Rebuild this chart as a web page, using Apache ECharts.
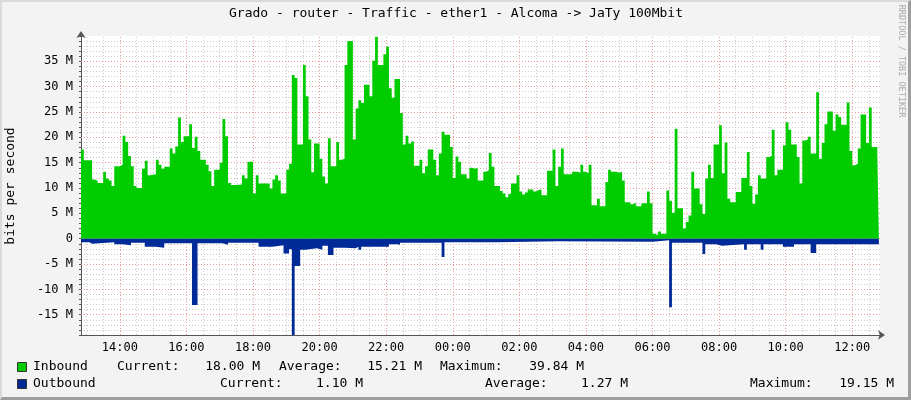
<!DOCTYPE html>
<html><head><meta charset="utf-8">
<script src="https://cdn.jsdelivr.net/npm/echarts@6/dist/echarts.min.js"></script>
<style>
html,body{margin:0;padding:0;background:#F3F3F3;}
#chart{position:absolute;left:0;top:0;width:911px;height:400px;}
#frame{position:absolute;left:0;top:0;width:911px;height:400px;box-sizing:border-box;border-top:2px solid #dadada;border-left:2px solid #dadada;border-right:3px solid #9e9e9e;border-bottom:3px solid #9e9e9e;pointer-events:none;}
</style></head>
<body>
<div id="chart"></div><div id="frame"></div>
<script>
// ---- data (values in Mbit/s), step samples: value holds from its time until the next time ----
const inTimes = ["12:50","12:55","13:10","13:15","13:20","13:30","13:35","13:40","13:45","13:50","14:00","14:05","14:10","14:15","14:20","14:25","14:30","14:40","14:45","14:50","14:55","15:05","15:10","15:15","15:20","15:30","15:35","15:40","15:45","15:50","15:55","16:05","16:10","16:15","16:20","16:25","16:35","16:40","16:45","16:50","17:00","17:05","17:10","17:15","17:20","17:30","17:40","17:45","17:50","18:00","18:05","18:10","18:30","18:35","18:40","18:45","18:50","19:00","19:05","19:10","19:15","19:20","19:30","19:35","19:40","19:45","19:50","20:00","20:05","20:10","20:15","20:20","20:30","20:35","20:40","20:45","20:50","21:00","21:05","21:10","21:15","21:20","21:30","21:35","21:40","21:45","21:55","22:00","22:05","22:10","22:15","22:25","22:30","22:35","22:40","22:45","22:50","23:00","23:05","23:10","23:15","23:25","23:30","23:35","23:40","23:45","23:55","00:00","00:05","00:10","00:15","00:25","00:30","00:35","00:40","00:45","00:55","01:00","01:05","01:10","01:15","01:25","01:30","01:35","01:40","01:45","01:55","02:00","02:05","02:10","02:15","02:25","02:30","02:35","02:40","02:50","03:00","03:05","03:10","03:15","03:20","03:35","03:45","03:50","03:55","04:00","04:05","04:10","04:20","04:25","04:35","04:40","04:45","04:55","05:00","05:05","05:10","05:20","05:25","05:30","05:40","05:50","05:55","06:00","06:05","06:10","06:15","06:25","06:30","06:35","06:40","06:45","06:55","07:00","07:05","07:10","07:15","07:25","07:30","07:35","07:40","07:45","07:50","08:00","08:05","08:10","08:15","08:20","08:30","08:40","08:50","08:55","09:00","09:05","09:10","09:15","09:25","09:30","09:35","09:40","09:45","09:55","10:00","10:05","10:10","10:20","10:25","10:30","10:35","10:40","10:45","10:55","11:00","11:05","11:10","11:15","11:25","11:30","11:35","11:40","11:50","11:55","12:00","12:05","12:10","12:15","12:25","12:30","12:35","12:45","12:48"];
const inValues = [17.6,15.5,11.7,11.4,11.0,13.2,11.9,11.5,10.4,14.3,14.6,20.3,19.1,16.3,14.3,10.4,10.0,13.8,15.4,12.5,12.7,15.6,14.6,13.8,14.2,17.8,16.8,18.2,23.9,19.1,20.2,22.6,17.9,20.1,17.3,15.6,14.6,13.3,10.4,13.6,15.0,23.6,20.2,11.0,10.6,10.7,12.5,11.9,15.2,8.9,12.5,10.9,9.9,11.7,12.5,11.5,8.9,13.6,14.8,32.3,31.7,18.6,34.3,28.1,19.6,13.1,18.8,15.8,12.3,10.9,19.8,14.3,19.1,15.6,15.8,34.3,39.0,19.6,25.7,27.3,26.8,30.4,28.1,35.1,39.84,34.3,36.4,37.9,29.7,27.8,31.5,24.8,18.6,20.3,18.8,19.2,14.4,15.6,12.9,14.3,17.6,15.6,12.5,16.8,21.1,20.5,18.1,12.0,16.2,15.2,12.7,11.9,14.0,13.8,14.0,11.5,13.2,13.5,16.9,14.2,10.4,9.4,8.9,8.2,8.8,10.9,12.5,9.3,8.7,9.1,9.7,9.3,9.6,9.7,8.6,13.4,17.6,10.4,14.2,17.8,12.7,13.2,13.0,14.6,13.2,12.9,14.6,6.6,7.9,6.4,11.2,13.6,13.2,13.0,13.2,11.5,7.2,6.8,7.1,6.4,7.0,9.3,7.0,1.0,0.7,1.4,1.0,9.5,7.5,5.1,21.7,6.0,2.0,3.3,4.6,13.2,9.9,6.8,4.9,11.9,14.6,12.0,18.6,22.4,12.9,19.0,7.9,7.2,9.2,12.0,17.1,10.4,6.9,8.7,12.5,11.9,16.1,16.3,21.5,12.5,13.6,18.4,23.0,21.5,18.6,16.1,10.9,19.4,19.6,20.1,16.8,28.9,15.8,18.9,22.6,25.1,21.3,24.5,24.0,22.5,26.9,17.3,14.5,14.8,17.8,24.5,18.9,25.9,18.1,18.0,18.0];
const outTimes = ["12:50","13:05","13:10","13:50","14:05","14:20","14:45","15:05","15:20","16:10","16:20","17:05","17:15","18:10","18:35","18:55","19:05","19:10","19:15","19:25","19:35","19:55","20:05","20:15","20:25","20:45","21:05","21:10","21:15","22:05","22:20","22:25","23:40","23:45","01:20","03:10","06:00","06:30","06:35","07:30","07:35","07:55","08:05","08:45","08:50","09:15","09:20","09:55","10:15","10:45","10:55","12:48"];
const outValues = [0.7,1.0,0.7,1.1,1.3,0.8,1.6,1.8,0.9,13.1,0.9,1.2,0.8,1.6,1.3,2.9,2.1,19.15,5.4,2.2,1.9,2.2,1.4,3.2,1.8,1.9,1.6,2.2,1.6,1.1,1.2,0.8,3.6,0.7,0.5,0.6,0.3,13.5,0.8,3.0,1.1,1.4,1.1,2.2,1.1,2.2,1.1,1.6,1.1,2.8,1.1,1.1];
const xTickLabels = ["14:00","16:00","18:00","20:00","22:00","00:00","02:00","04:00","06:00","08:00","10:00","12:00"];
const yTickValues = [-15,-10,-5,0,5,10,15,20,25,30,35];
const titleText = "Grado - router - Traffic - ether1 - Alcoma -> JaTy 100Mbit";
const seriesNames = ["Inbound","Outbound"];
const inboundStats = ["18.00 M","15.21 M","39.84 M"];
const outboundStats = ["1.10 M","1.27 M","19.15 M"];

// ---- helpers ----
const START = 770; // 12:50 in minutes
function toMin(t){const p=t.split(':');let v=(+p[0])*60+(+p[1]);if(v<START)v+=1440;return v;}
const inData = inTimes.map((t,i)=>[toMin(t), inValues[i]*1e6]);
const outData = outTimes.map((t,i)=>[toMin(t), -outValues[i]*1e6]);
const xLabelMins = xTickLabels.map(toMin);

const MONO = "'DejaVu Sans Mono', monospace";
const gridLines = [];
for (let m = 780; m < 2210; m += 30) {
  const major = xLabelMins.indexOf(m) >= 0;
  gridLines.push({xAxis: m, lineStyle: {color: major ? '#F09A9A' : '#CCCCCC', type: [1,2], width: 1}});
}
yTickValues.forEach(v => gridLines.push({yAxis: v*1e6, lineStyle: {color: '#F09A9A', type: [1,2], width: 1}}));

const chart = echarts.init(document.getElementById('chart'), null, {renderer: 'canvas'});
const gfx = [
  {type:'text', x:456, y:14, style:{text:titleText, font:'13px '+MONO, fill:'#000', align:'center', verticalAlign:'middle'}},
  {type:'text', x:11, y:186, rotation:Math.PI/2, style:{text:'bits per second', font:'13px '+MONO, fill:'#000', align:'center', verticalAlign:'middle'}},
  {type:'text', x:901, y:61, rotation:-Math.PI/2, style:{text:'RRDTOOL / TOBI OETIKER', font:'8.5px '+MONO, fill:'#AAAAAA', align:'center', verticalAlign:'middle'}},
  {type:'rect', shape:{x:17.5, y:362.5, width:9, height:9}, style:{fill:'#00CC00', stroke:'#333', lineWidth:1}},
  {type:'rect', shape:{x:17.5, y:379.5, width:9, height:9}, style:{fill:'#002A97', stroke:'#333', lineWidth:1}}
];
function txt(s, x, y, align){ gfx.push({type:'text', x:x, y:y, style:{text:s, font:'13px '+MONO, fill:'#000', align:align, verticalAlign:'middle'}}); }
txt(seriesNames[0], 33, 367, 'left');
txt('Current:', 117, 367, 'left'); txt(inboundStats[0], 260, 367, 'right');
txt('Average:', 279, 367, 'left'); txt(inboundStats[1], 422, 367, 'right');
txt('Maximum:', 440, 367, 'left'); txt(inboundStats[2], 584, 367, 'right');
txt(seriesNames[1], 33, 384, 'left');
txt('Current:', 220, 384, 'left'); txt(outboundStats[0], 363, 384, 'right');
txt('Average:', 485, 384, 'left'); txt(outboundStats[1], 628, 384, 'right');
txt('Maximum:', 750, 384, 'left'); txt(outboundStats[2], 894, 384, 'right');

chart.setOption({
  animation: false,
  backgroundColor: 'transparent',
  grid: {left: 81, top: 36, width: 799, height: 299, show: true, backgroundColor: '#FFFFFF', borderWidth: 0},
  xAxis: {
    type: 'value', min: START, max: START + 1440, interval: 10,
    axisLine: {show: true, onZero: false, lineStyle: {color: '#555', width: 1}, symbol: ['none','arrow'], symbolSize: [7, 7], symbolOffset: [0, 5]},
    axisTick: {show: false},
    splitLine: {show: false},
    axisLabel: {
      margin: 7, color: '#000', fontFamily: MONO, fontSize: 12,
      formatter: function (v) { const m = Math.round(v); const i = xLabelMins.indexOf(m); return i >= 0 ? xTickLabels[i] : ''; }
    }
  },
  yAxis: {
    type: 'value', min: -19e6, max: 40e6, interval: 1e6,
    axisLine: {show: true, onZero: false, lineStyle: {color: '#555', width: 1}, symbol: ['none','arrow'], symbolSize: [7, 7], symbolOffset: [0, 5]},
    axisTick: {show: true, length: 2, lineStyle: {color: '#555'}},
    splitLine: {show: true, showMaxLine: false, lineStyle: {color: '#CCCCCC', type: [1,2], width: 1}},
    axisLabel: {
      margin: 8, color: '#000', fontFamily: MONO, fontSize: 12,
      formatter: function (v) { const n = Math.round(v/1e6); if (yTickValues.indexOf(n) < 0) return ''; return n === 0 ? '0' : n + ' M'; }
    }
  },
  series: [
    {type: 'line', name: 'grid', data: [], z: 1, silent: true,
     markLine: {silent: true, z: 1, symbol: ['none','none'], label: {show: false}, animation: false, data: gridLines}},
    {type: 'line', name: seriesNames[0], data: inData, step: 'end', showSymbol: false, z: 3,
     lineStyle: {width: 0, color: '#00CC00'}, itemStyle: {color: '#00CC00'}, areaStyle: {color: '#00CC00', opacity: 1}},
    {type: 'line', name: seriesNames[1], data: outData, step: 'end', showSymbol: false, z: 4,
     lineStyle: {width: 0, color: '#002A97'}, itemStyle: {color: '#002A97'}, areaStyle: {color: '#002A97', opacity: 1}}
  ],
  graphic: gfx
});
</script>
</body></html>
